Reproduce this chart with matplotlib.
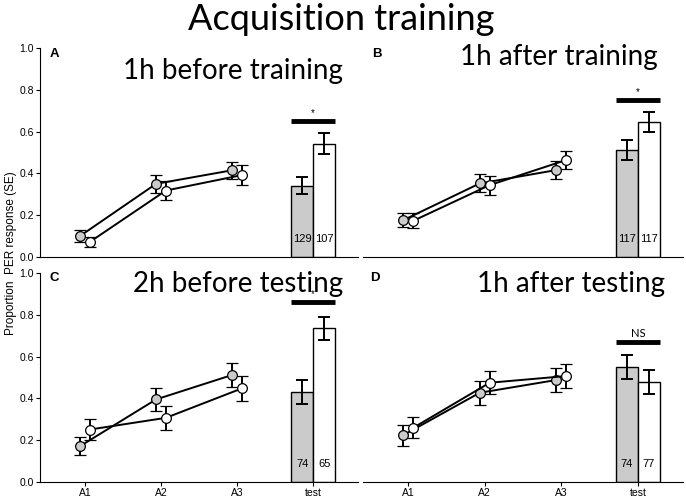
import numpy as np
import matplotlib
matplotlib.use("Agg")
from matplotlib import pyplot as plt

plt.rcParams['font.family'] = ['Liberation Sans', 'DejaVu Sans']

trials = ["A1", "A2", "A3"]
bar_label = "test"

panels = ["A", "B", "C", "D"]
subtitles = ["1h before training", "1h after training", "2h before testing", "1h after testing"]

# acquisition curves: grey group (control) and white group (treated)
grey_mean = [[0.10, 0.35, 0.415], [0.176, 0.352, 0.416], [0.171, 0.395, 0.512], [0.224, 0.427, 0.488]]
grey_err = [[0.027, 0.042, 0.041], [0.034, 0.043, 0.042], [0.044, 0.057, 0.056], [0.05, 0.058, 0.058]]
white_mean = [[0.072, 0.318, 0.392], [0.173, 0.344, 0.464], [0.251, 0.307, 0.448], [0.259, 0.475, 0.507]]
white_err = [[0.024, 0.045, 0.046], [0.036, 0.045, 0.044], [0.052, 0.057, 0.06], [0.05, 0.056, 0.056]]

# test bars
bar_grey = [0.341, 0.512, 0.432, 0.552]
bar_grey_err = [0.041, 0.048, 0.058, 0.058]
bar_white = [0.541, 0.648, 0.736, 0.48]
bar_white_err = [0.05, 0.048, 0.055, 0.058]
n_grey = [129, 117, 74, 74]
n_white = [107, 117, 65, 77]

sig_y = [0.651, 0.752, 0.861, 0.672]
sig_txt = ["*", "*", "*", "NS"]

W, H = 686, 500
fig = plt.figure(figsize=(6.86, 5.0), dpi=100)

boxes = [(40, 358, 48, 257), (363, 683, 48, 257), (40, 358, 273, 482), (363, 683, 273, 482)]
sub_pos = [(343, 79), (658, 65), (343, 292), (665, 292)]
letter_pos = [(50, 48), (372, 48), (50, 272), (370, 272)]

off = 0.065
bw = 0.29
grey_c = "#cbcbcb"

for i in range(4):
    l, r, t, b = boxes[i]
    ax = fig.add_axes([l / W, 1 - b / H, (r - l) / W, (b - t) / H])
    x = np.arange(1, 4)

    ax.errorbar(x - off, grey_mean[i], yerr=grey_err[i], color="black", lw=1.4,
                capsize=4, capthick=1.4, elinewidth=1.4, marker="o", ms=7,
                mfc=grey_c, mec="black", mew=0.9, zorder=3)
    ax.errorbar(x + off, white_mean[i], yerr=white_err[i], color="black", lw=1.4,
                capsize=4, capthick=1.4, elinewidth=1.4, marker="o", ms=7,
                mfc="white", mec="black", mew=0.9, zorder=3)

    ax.bar([4 - bw / 2], [bar_grey[i]], width=bw, color=grey_c, edgecolor="black", lw=1)
    ax.bar([4 + bw / 2], [bar_white[i]], width=bw, color="white", edgecolor="black", lw=1)
    ax.errorbar([4 - bw / 2], [bar_grey[i]], yerr=[bar_grey_err[i]], fmt="none",
                ecolor="black", capsize=4, capthick=1.4, elinewidth=1.4)
    ax.errorbar([4 + bw / 2], [bar_white[i]], yerr=[bar_white_err[i]], fmt="none",
                ecolor="black", capsize=4, capthick=1.4, elinewidth=1.4)
    ax.text(4 - bw / 2, 0.085, str(n_grey[i]), ha="center", va="center", fontsize=8)
    ax.text(4 + bw / 2, 0.085, str(n_white[i]), ha="center", va="center", fontsize=8)

    ax.plot([4 - bw, 4 + bw], [sig_y[i], sig_y[i]], color="black", lw=3.5, solid_capstyle="butt")
    if sig_txt[i] == "*":
        ax.text(4, sig_y[i] + 0.012, "*", ha="center", va="bottom", fontsize=7)
    else:
        ax.text(4, sig_y[i] + 0.012, "NS", ha="center", va="bottom", fontsize=8,
                family="Lato")

    ax.set_xlim(0.41, 4.59)
    ax.set_ylim(0, 1.0)
    ax.spines["top"].set_visible(False)
    ax.spines["right"].set_visible(False)
    ax.set_xticks([1, 2, 3, 4])
    ax.set_yticks([0, 0.2, 0.4, 0.6, 0.8, 1.0])
    ax.set_yticklabels(["0.0", "0.2", "0.4", "0.6", "0.8", "1.0"])
    ax.tick_params(axis="both", labelsize=7.5, length=3, width=0.8, pad=1.5)
    if i >= 2:
        ax.set_xticklabels(trials + [bar_label])
    else:
        ax.set_xticklabels([])
        ax.tick_params(axis="x", length=0)
    if i % 2 == 1:
        ax.spines["left"].set_visible(False)
        ax.tick_params(axis="y", left=False, labelleft=False)

    sx, sy = sub_pos[i]
    fig.text(sx / W, 1 - sy / H, subtitles[i], ha="right", va="baseline",
             fontsize=20, family="Lato")
    lx, ly = letter_pos[i]
    fig.text(lx / W, 1 - ly / H, panels[i], ha="left", va="top",
             fontsize=9.5, fontweight="bold")

fig.text(341 / W, 1 - 30 / H, "Acquisition training", ha="center", va="baseline",
         fontsize=26, family="Lato")
fig.text(11 / W, 1 - 253 / H, "Proportion  PER response (SE)", rotation=90,
         ha="center", va="center", fontsize=8.5)

fig.savefig("out.png", dpi=100)
